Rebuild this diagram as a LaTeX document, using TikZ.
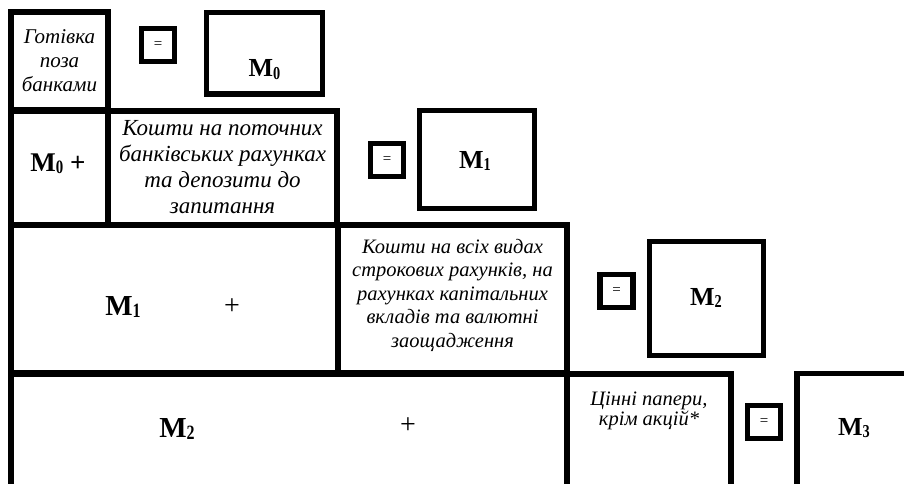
\documentclass[tikz,border=0pt]{standalone}
\usepackage{graphicx}
\usepackage{fontspec}
\setmainfont{Liberation Serif}
\newcommand{\msym}[1]{\textbf{M}\raisebox{-0.1em}{\scalebox{0.55}[0.7]{\textbf{#1}}}}
\begin{document}
\begin{tikzpicture}[x=1pt, y=-1pt, line join=miter,
		cell/.style={draw, line width=5.3pt, inner sep=0pt, align=center},
		eqbox/.style={cell, minimum size=33pt, font=\fontsize{15}{15}\selectfont},
		txt/.style={font=\fontsize{21}{24}\selectfont\itshape, align=center, inner sep=0pt},
		mlab/.style={font=\fontsize{26}{26}\selectfont, anchor=base, inner sep=0pt},
		mbig/.style={font=\fontsize{29}{29}\selectfont, anchor=base, inner sep=0pt}]
	\useasboundingbox (0,0) rectangle (904,484);
	\clip (0,0) rectangle (904,484);
	% row 1
	\node[cell, minimum width=97pt, minimum height=98pt, txt] (cash) at (59.5,61) {Готівка\\поза\\банками};
	\node[eqbox] (eq0) at (158,45) {=};
	\node[cell, minimum width=116pt, minimum height=81.5pt] (m0box) at (264.5,53.25) {};
	\node[mlab] (m0) at (264.5,77) {\msym{0}};
	% row 2
	\node[cell, minimum width=97pt, minimum height=114pt] (m0plus) at (59.5,168) {};
	\node[mlab, font=\fontsize{27}{27}\selectfont] (m0sum) at (58,171) {\msym{0} \textbf{+}};
	\node[cell, minimum width=229pt, minimum height=114pt] (demand) at (222.5,168) {};
	\node[txt, font=\fontsize{23}{26}\selectfont\itshape] (demandtxt) at (222.5,167) {Кошти на поточних\\банківських рахунках\\та депозити до\\запитання};
	\node[eqbox] (eq1) at (387,160) {=};
	\node[cell, minimum width=115pt, minimum height=98pt] (m1box) at (477,159.5) {};
	\node[mlab] (m1) at (475,168) {\msym{1}};
	% row 3
	\node[cell, minimum width=327pt, minimum height=148pt] (m1plus) at (174.5,299) {};
	\node[mbig] (m1sum) at (123,315) {\msym{1}};
	\node[mbig, font=\fontsize{28}{28}\selectfont] (plus1) at (232,314) {+};
	\node[cell, minimum width=229pt, minimum height=148pt] (term) at (452.5,299) {};
	\node[txt, font=\fontsize{20.5}{23.5}\selectfont\itshape] (termtxt) at (452.5,295) {Кошти на всіх видах\\строкових рахунків, на\\рахунках капітальних\\вкладів та валютні\\заощадження};
	\node[eqbox] (eq2) at (616.5,291) {=};
	\node[cell, minimum width=114pt, minimum height=114pt] (m2box) at (706.5,298.5) {};
	\node[mlab] (m2) at (706,305) {\msym{2}};
	% row 4
	\node[cell, minimum width=556pt, minimum height=116pt] (m2plus) at (289,432) {};
	\node[mbig] (m2sum) at (177,437) {\msym{2}};
	\node[mbig, font=\fontsize{28}{28}\selectfont] (plus2) at (408,433) {+};
	\node[cell, minimum width=164pt, minimum height=116pt] (secur) at (649,432) {};
	\node[txt, font=\fontsize{20.5}{18}\selectfont\itshape, anchor=north] (securtxt) at (649,392) {Цінні папери,\\крім акцій*};
	\node[eqbox] (eq3) at (764,422) {=};
	\node[cell, minimum width=118pt, minimum height=127pt] (m3box) at (856,437) {};
	\node[mlab] (m3) at (854,435) {\msym{3}};
\end{tikzpicture}
\end{document}
